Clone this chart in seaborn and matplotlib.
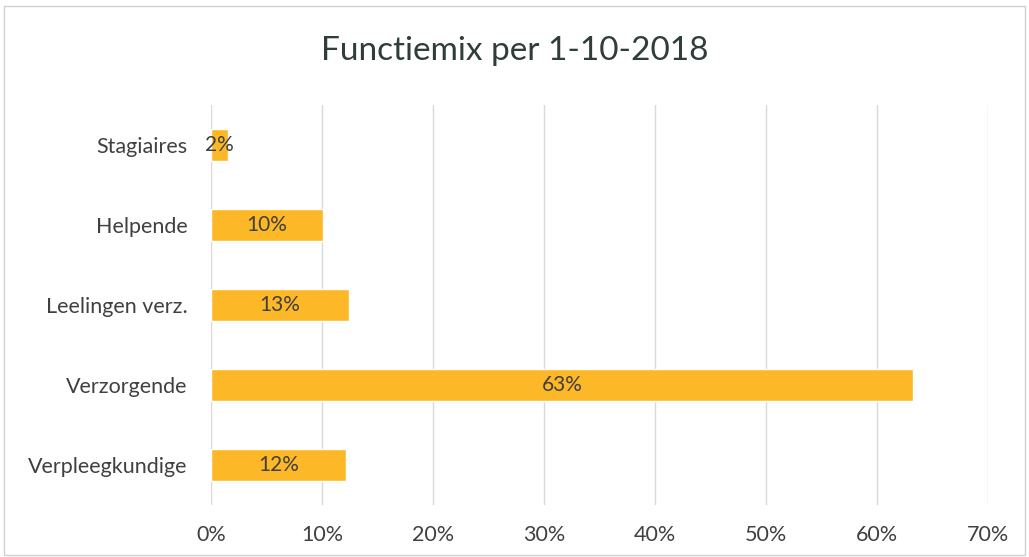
import matplotlib.pyplot as plt
import seaborn as sns
import pandas as pd
from matplotlib.patches import Rectangle
from matplotlib.ticker import PercentFormatter

categories = ["Stagiaires", "Helpende", "Leelingen verz.", "Verzorgende", "Verpleegkundige"]
shares = [1.5, 10.1, 12.4, 63.3, 12.2]
labels = ["2%", "10%", "13%", "63%", "12%"]

df = pd.DataFrame({"functie": categories, "aandeel": shares})

sns.set_theme(style="white")
plt.rcParams["font.family"] = ["Lato", "DejaVu Sans"]

fig = plt.figure(figsize=(10.29, 5.57), dpi=100)
ax = fig.add_axes([0.205, 0.093, 0.755, 0.718])

sns.barplot(data=df, x="aandeel", y="functie", color="#FDB827",
            width=0.4, saturation=1, ax=ax)

for i, (v, lab) in enumerate(zip(shares, labels)):
    ax.text(v / 2, i, lab, ha="center", va="center", fontsize=15, color="#404040")

ax.set_xlim(0, 70)
ax.set_ylim(4.5, -0.5)
ax.set_xticks(range(0, 71, 10))
ax.xaxis.set_major_formatter(PercentFormatter(decimals=0))
ax.grid(axis="x", color="#d9d9d9", lw=1)
ax.set_axisbelow(True)
ax.set(xlabel="", ylabel="")
ax.tick_params(axis="both", labelsize=15.5, colors="#404040", length=0)
ax.tick_params(axis="y", pad=17)
ax.tick_params(axis="x", pad=14)
sns.despine(ax=ax, left=True, bottom=True)

fig.suptitle("Functiemix per 1-10-2018", y=0.935, fontsize=24, color="#2f3e36")
fig.patches.append(Rectangle((0.004, 0.004), 0.992, 0.985, transform=fig.transFigure,
                             fill=False, edgecolor="#d0d0d0", lw=1))

fig.savefig("out.png", dpi=100)
